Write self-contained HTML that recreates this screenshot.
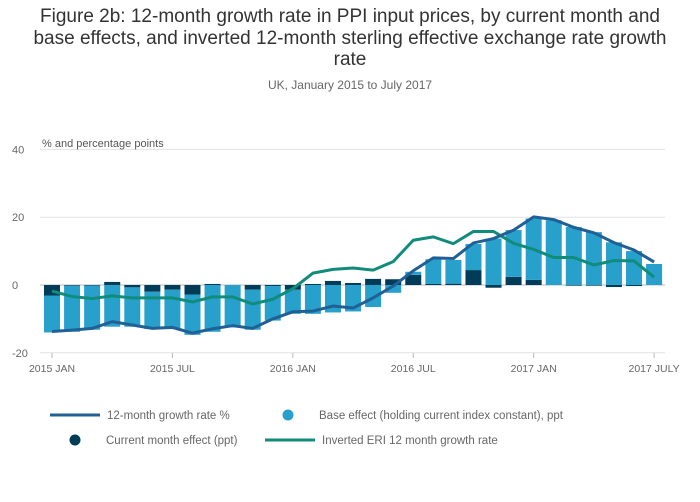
<!DOCTYPE html>
<html><head><meta charset="utf-8"><style>
body{margin:0;background:#fff;font-family:"Liberation Sans",sans-serif;}
#wrap{position:relative;width:700px;height:502px;overflow:hidden;}
.title{position:absolute;left:0;top:6px;width:700px;text-align:center;font-size:19px;line-height:21.5px;color:#333;}
.sub{position:absolute;left:0;top:78px;width:700px;text-align:center;font-size:12px;color:#666;}
</style></head><body>
<div id="wrap">
<div class="title">Figure 2b: 12-month growth rate in PPI input prices, by current month and<br>base effects, and inverted 12-month sterling effective exchange rate growth<br>rate</div>
<div class="sub">UK, January 2015 to July 2017</div>
<svg id="chart" width="700" height="502" style="position:absolute;left:0;top:0"></svg>
</div>
<script>
const months=["2015 JAN","","","","","","2015 JUL","","","","","","2016 JAN","","","","","","2016 JUL","","","","","","2017 JAN","","","","","","2017 JULY"];
const baseEffect=[-10.9,-13.6,-13.0,-12.3,-11.6,-11.0,-11.6,-11.9,-13.8,-12.5,-11.8,-10.2,-7.1,-8.5,-8.1,-7.8,-6.5,-2.3,0.9,7.3,7.0,7.7,13.7,13.8,18.1,19.1,17.1,15.6,12.6,10.0,6.2];
const currentEffect=[-3.1,-0.2,-0.2,0.9,-0.7,-2.0,-1.4,-2.8,0.3,0,-1.4,-0.3,-1.4,0.3,1.2,0.6,1.8,1.7,3.0,0.3,0.4,4.4,-0.8,2.4,1.5,0,-0.2,-0.2,-0.6,-0.3,0];
const growthRate=[-13.7,-13.3,-12.8,-10.8,-11.8,-12.8,-12.5,-14.2,-12.9,-12.0,-12.8,-10.0,-7.9,-7.7,-6.2,-6.8,-3.8,-0.3,4.2,8.0,7.8,12.4,13.7,16.2,20.1,19.3,17.0,15.4,12.5,10.3,6.8];
const eriInverted=[-1.8,-3.4,-4.0,-3.2,-3.8,-3.8,-3.8,-5.0,-3.5,-3.5,-5.6,-4.2,-1.1,3.5,4.6,5.0,4.4,6.9,13.2,14.2,12.2,15.8,15.8,12.3,10.5,8.1,8.1,5.9,7.2,7.1,2.3];
const yTicks=[40,20,0,-20];
const NS="http://www.w3.org/2000/svg";
const svg=document.getElementById('chart');
const x=i=>52+i*20.07;
const y=v=>285-v*3.39;
function mk(t,a,p){const e=document.createElementNS(NS,t);for(const k in a)e.setAttribute(k,a[k]);(p||svg).appendChild(e);return e;}
yTicks.forEach(t=>{
 const g=mk('line',{x1:40,x2:665,y1:y(t),y2:y(t),stroke:t===0?'#bbb':'#e2e2e2','stroke-width':1});
 
 
 const l=mk('text',{x:12,y:y(t)+4,'font-size':11,fill:'#666'});l.textContent=t;
 
 
});
const yl=mk('text',{x:42,y:147,'font-size':11,fill:'#555'});yl.textContent='% and percentage points';


const bw=16;
months.forEach((m,i)=>{
 let pos=0,neg=0;
 [[currentEffect[i],'#003c57','current'],[baseEffect[i],'#27a0cc','base']].forEach(([v,c,n])=>{
  let y0,y1;
  if(v>=0){y0=y(pos+v);y1=y(pos);pos+=v;}else{y0=y(neg);y1=y(neg+v);neg+=v;}
  const r=mk('rect',{x:x(i)-bw/2,y:y0,width:bw,height:Math.max(0,y1-y0),fill:c});
  
  
 });
 if(m){
  const tk=mk('line',{x1:x(i),x2:x(i),y1:353,y2:358,stroke:'#bbb'});
  
  
  const tl=mk('text',{x:x(i),y:372,'font-size':10.5,fill:'#666','text-anchor':'middle'});tl.textContent=m;
  
  
 }
});
function line(arr,c,n){
 const p=mk('polyline',{points:arr.map((v,i)=>x(i)+','+y(v)).join(' '),fill:'none',stroke:c,'stroke-width':3,'stroke-linejoin':'round'});
 
 
}
line(eriInverted,'#118c7b','line-inverted-eri');
line(growthRate,'#206095','line-growth-rate');
const leg=[[50,415,'line','#206095','12-month growth rate %'],[288,415,'dot','#27a0cc','Base effect (holding current index constant), ppt'],[75,440,'dot','#003c57','Current month effect (ppt)'],[265,440,'line','#118c7b','Inverted ERI 12 month growth rate']];
leg.forEach(([lx,ly,t,c,txt])=>{
 const g=mk('g',{});
 
 
 let tx;
 if(t==='line'){mk('line',{x1:lx,x2:lx+50,y1:ly,y2:ly,stroke:c,'stroke-width':3},g);tx=lx+57;}
 else{mk('circle',{cx:lx,cy:ly,r:5.5,fill:c},g);tx=lx+31;}
 const tt=mk('text',{x:tx,y:ly+4,'font-size':11.5,fill:'#666'},g);tt.textContent=txt;
});
</script>
</body></html>
